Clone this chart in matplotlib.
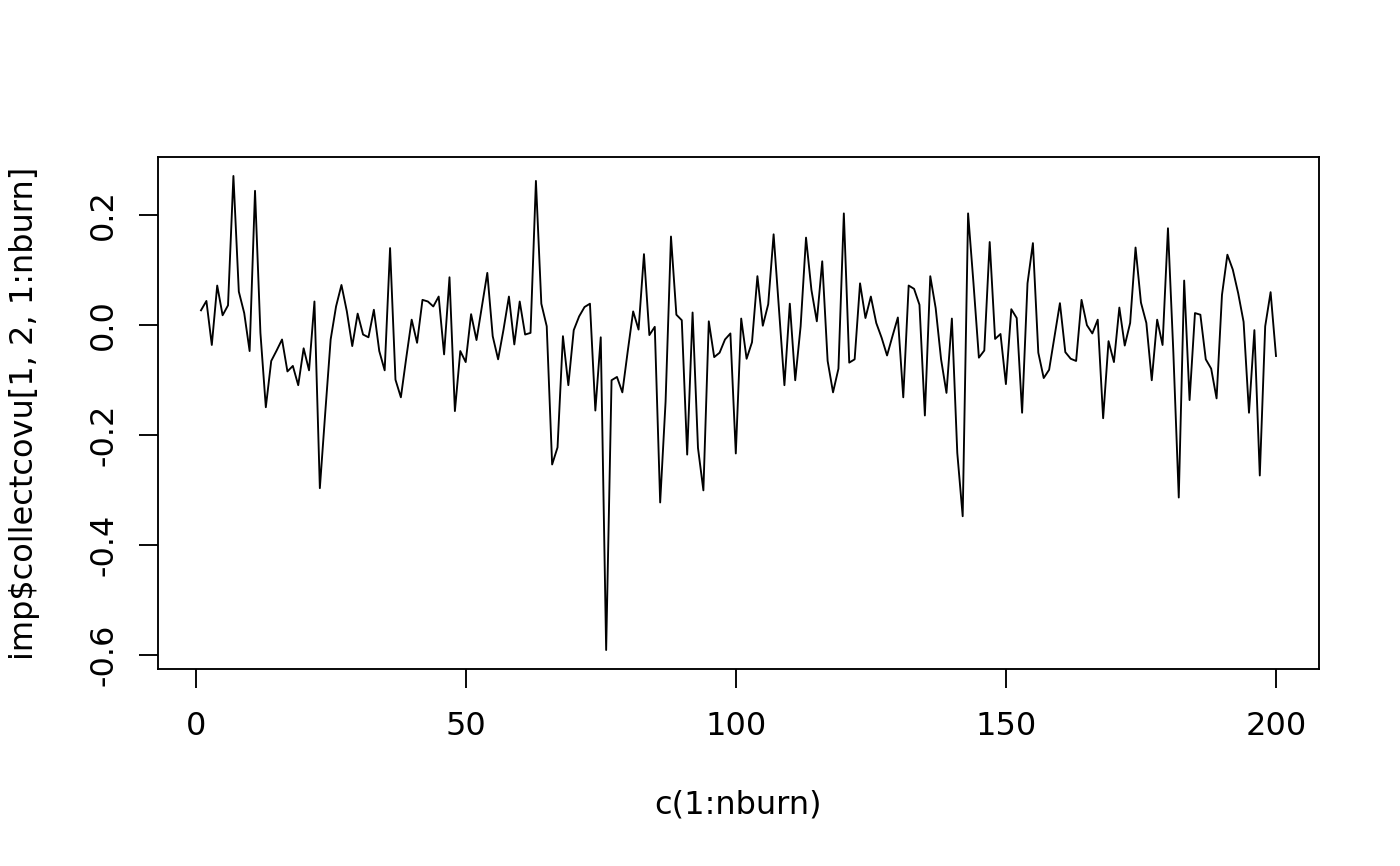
import numpy as np
import matplotlib
matplotlib.use("Agg")
import matplotlib.pyplot as plt

plt.rcParams['font.family'] = ['DejaVu Sans']
plt.rcParams['axes.unicode_minus'] = False

# trace values, one per iteration 1..200
covu = [
    0.026, 0.043, -0.037, 0.071, 0.017, 0.035, 0.270, 0.060, 0.021, -0.048,
    0.243, -0.015, -0.150, -0.066, -0.047, -0.027, -0.085, -0.075, -0.110, -0.043,
    -0.083, 0.042, -0.297, -0.160, -0.027, 0.033, 0.072, 0.024, -0.039, 0.020,
    -0.018, -0.023, 0.027, -0.048, -0.083, 0.139, -0.100, -0.132, -0.060, 0.009,
    -0.033, 0.045, 0.042, 0.033, 0.051, -0.054, 0.086, -0.157, -0.048, -0.068,
    0.019, -0.028, 0.033, 0.094, -0.021, -0.063, -0.009, 0.051, -0.036, 0.042,
    -0.018, -0.015, 0.261, 0.038, -0.003, -0.254, -0.223, -0.021, -0.110, -0.010,
    0.015, 0.032, 0.038, -0.156, -0.023, -0.591, -0.101, -0.095, -0.123, -0.048,
    0.024, -0.009, 0.128, -0.019, -0.004, -0.323, -0.140, 0.160, 0.018, 0.008,
    -0.236, 0.022, -0.224, -0.301, 0.006, -0.059, -0.051, -0.027, -0.016, -0.234,
    0.011, -0.062, -0.032, 0.088, -0.002, 0.037, 0.164, 0.027, -0.110, 0.038,
    -0.101, -0.003, 0.158, 0.063, 0.006, 0.115, -0.066, -0.123, -0.080, 0.202,
    -0.069, -0.063, 0.075, 0.012, 0.051, 0.003, -0.024, -0.056, -0.021, 0.013,
    -0.132, 0.071, 0.065, 0.036, -0.165, 0.088, 0.030, -0.063, -0.124, 0.011,
    -0.233, -0.348, 0.202, 0.075, -0.060, -0.047, 0.150, -0.026, -0.017, -0.108,
    0.028, 0.012, -0.160, 0.075, 0.148, -0.051, -0.097, -0.082, -0.021, 0.039,
    -0.050, -0.062, -0.066, 0.045, -0.001, -0.016, 0.009, -0.170, -0.030, -0.068,
    0.031, -0.038, 0.003, 0.140, 0.040, 0.003, -0.101, 0.009, -0.037, 0.175,
    -0.051, -0.314, 0.080, -0.137, 0.021, 0.018, -0.063, -0.080, -0.134, 0.054,
    0.127, 0.100, 0.057, 0.005, -0.160, -0.010, -0.274, -0.003, 0.059, -0.057,
]
nburn = np.arange(1, len(covu) + 1)
xticks = [0, 50, 100, 150, 200]
yticks = [-0.6, -0.4, -0.2, 0.0, 0.2]

fig = plt.figure(figsize=(14, 8.66), dpi=100)
ax = fig.add_axes([158 / 1400, 1 - 669 / 866, (1319 - 158) / 1400, (669 - 157) / 866])

ax.plot(nburn, covu, color='black', lw=1.35)

# R style 4% padding on both axes
xr = nburn.max() - nburn.min()
ax.set_xlim(nburn.min() - 0.04 * xr, nburn.max() + 0.04 * xr)
yr = max(covu) - min(covu)
ax.set_ylim(min(covu) - 0.04 * yr, max(covu) + 0.04 * yr)

fs = 23
ax.set_xticks(xticks)
ax.set_xticklabels([str(t) for t in xticks])
ax.set_yticks(yticks)
ax.set_yticklabels(['%.1f' % t for t in yticks], rotation=90, va='center')

ax.tick_params(axis='both', direction='out', length=14, width=1.35,
               labelsize=fs, colors='black')
ax.tick_params(axis='x', pad=16)
ax.tick_params(axis='y', pad=14)
for s in ax.spines.values():
    s.set_linewidth(1.35)

ax.set_xlabel('c(1:nburn)', fontsize=fs, va='center')
ax.xaxis.set_label_coords(0.5, (669 - 805) / 512)
ax.set_ylabel('imp$collectcovu[1, 2, 1:nburn]', fontsize=fs, va='center')
ax.yaxis.set_label_coords((25 - 158) / 1161, 0.5)

fig.savefig('out.png', dpi=100)
